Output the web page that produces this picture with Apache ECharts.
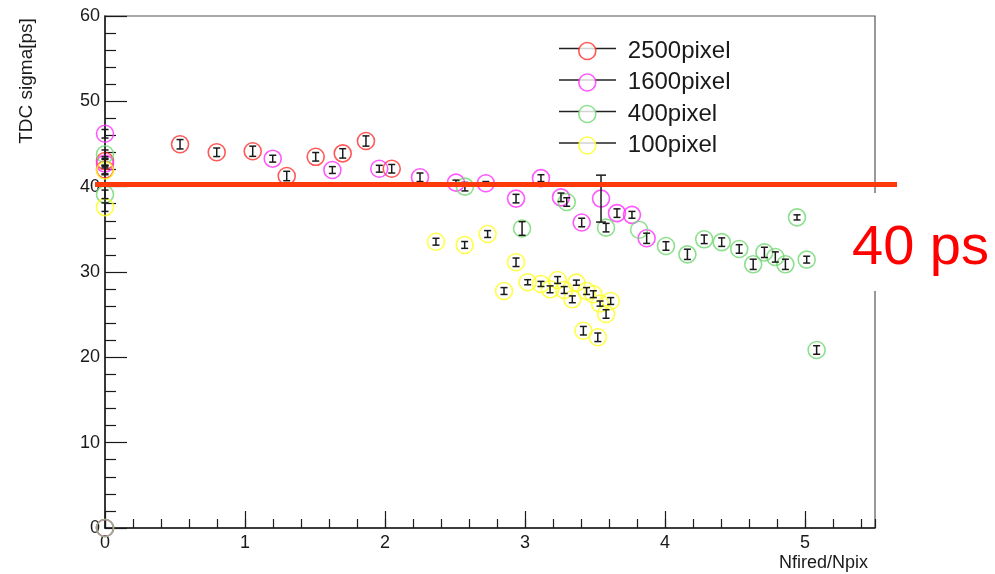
<!DOCTYPE html>
<html>
<head>
<meta charset="utf-8">
<script src="https://cdn.jsdelivr.net/npm/echarts@6.0.0/dist/echarts.min.js"></script>
<style>html,body{margin:0;padding:0;background:#fff}#main{width:995px;height:574px}</style>
</head>
<body>
<div id="main"></div>
<script>
// ---- data ----
const seriesNames = ['2500pixel', '1600pixel', '400pixel', '100pixel'];

const red2500X   = [0, 0, 0, 0.536, 0.798, 1.055, 1.298, 1.505, 1.698, 1.864, 2.048];
const red2500Y   = [0, 43.0, 42.0, 44.97, 44.03, 44.15, 41.25, 43.5, 43.9, 45.35, 42.1];
const red2500Err = [0, 0.5, 0.5, 0.55, 0.5, 0.6, 0.55, 0.5, 0.55, 0.6, 0.5];

const pink1600X   = [0, 0, 0, 1.198, 1.624, 1.959, 2.25, 2.507, 2.72, 2.936, 3.114, 3.257, 3.405, 3.543, 3.657, 3.764, 3.869];
const pink1600Y   = [0, 46.2, 42.7, 43.28, 41.95, 42.1, 41.1, 40.47, 40.4, 38.6, 41.0, 38.75, 35.8, 38.6, 36.9, 36.7, 33.95];
const pink1600Err = [0, 0.5, 0.5, 0.4, 0.4, 0.4, 0.5, 0.3, 0.2, 0.5, 0.4, 0.5, 0.5, 2.75, 0.5, 0.4, 0.6];

const green400X   = [0, 0, 0, 2.571, 2.979, 3.298, 3.579, 3.815, 4.007, 4.16, 4.28, 4.405, 4.53, 4.63, 4.71, 4.788, 4.86, 4.943, 5.012, 5.083];
const green400Y   = [0, 43.8, 39.1, 40.0, 35.1, 38.2, 35.2, 34.95, 33.05, 32.07, 33.83, 33.5, 32.7, 30.9, 32.3, 31.76, 30.9, 36.4, 31.45, 20.86];
const green400Err = [0, 0.5, 0.5, 0.5, 0.8, 0.5, 0.5, 0, 0.5, 0.6, 0.5, 0.5, 0.5, 0.6, 0.6, 0.6, 0.6, 0.3, 0.4, 0.5];

const yellow100X   = [0, 0, 2.364, 2.569, 2.733, 2.85, 2.936, 3.019, 3.114, 3.179, 3.233, 3.28, 3.338, 3.367, 3.417, 3.44, 3.488, 3.52, 3.536, 3.579, 3.612];
const yellow100Y   = [41.9, 37.6, 33.55, 33.17, 34.45, 27.77, 31.14, 28.8, 28.6, 27.97, 29.06, 27.89, 26.8, 28.75, 23.12, 27.77, 27.4, 22.35, 26.3, 25.08, 26.6];
const yellow100Err = [0.5, 0.5, 0.4, 0.4, 0.4, 0.4, 0.5, 0.3, 0.3, 0.4, 0.4, 0.4, 0.4, 0.3, 0.5, 0.4, 0.4, 0.5, 0.3, 0.5, 0.4];

const thresholdPs = 40.3;
const xTickValues = [0, 1, 2, 3, 4, 5];
const yTickValues = [0, 10, 20, 30, 40, 50, 60];

// ---- styling ----
const colors = ['#ff2e2e', '#ff2eff', '#72d872', '#ffff1e'];
const FONT = '"Liberation Sans", Arial, sans-serif';

function pairs(xs, ys) { return xs.map((x, i) => [x, ys[i]]); }
function triples(xs, ys, es) { return xs.map((x, i) => [x, ys[i], es[i]]); }

function errRenderItem(params, api) {
  const x = api.value(0), y = api.value(1), e = api.value(2);
  if (!e) return null;
  const t = api.coord([x, y + e]);
  const b = api.coord([x, y - e]);
  const hw = e > 2 ? 5 : 3.5;
  const st = { stroke: '#1a1a1a', lineWidth: 1.5 };
  return {
    type: 'group',
    children: [
      { type: 'line', shape: { x1: t[0], y1: t[1], x2: b[0], y2: b[1] }, style: st },
      { type: 'line', shape: { x1: t[0] - hw, y1: t[1], x2: t[0] + hw, y2: t[1] }, style: st },
      { type: 'line', shape: { x1: b[0] - hw, y1: b[1], x2: b[0] + hw, y2: b[1] }, style: st }
    ]
  };
}

const groups = [
  [red2500X, red2500Y, red2500Err],
  [pink1600X, pink1600Y, pink1600Err],
  [green400X, green400Y, green400Err],
  [yellow100X, yellow100Y, yellow100Err]
];

const series = [];
groups.forEach((g, i) => {
  series.push({
    name: seriesNames[i],
    type: 'scatter',
    xAxisIndex: 0, yAxisIndex: 0,
    data: pairs(g[0], g[1]),
    symbol: 'circle',
    symbolSize: 17,
    itemStyle: { color: 'rgba(0,0,0,0)', borderColor: colors[i], borderWidth: 1.6 },
    z: 3,
    silent: true
  });
});
groups.forEach((g, i) => {
  series.push({
    name: seriesNames[i] + ' err',
    type: 'custom',
    xAxisIndex: 0, yAxisIndex: 0,
    data: triples(g[0], g[1], g[2]),
    renderItem: errRenderItem,
    z: 4,
    silent: true
  });
});
// reference line (own wider grid so it extends beyond the frame as in the picture)
series.push({
  name: 'threshold',
  type: 'line',
  xAxisIndex: 2, yAxisIndex: 1,
  data: [],
  z: 10,
  markLine: {
    silent: true,
    symbol: 'none',
    label: { show: false },
    lineStyle: { color: '#ff3a0a', width: 5, type: 'solid' },
    data: [{ yAxis: thresholdPs }],
    z: 10
  }
});

const tickLabelStyle = { fontSize: 18, color: '#1a1a1a', fontFamily: FONT };

const option = {
  animation: false,
  backgroundColor: '#fff',
  grid: [
    { left: 105, right: 120, top: 16, bottom: 46, show: true, borderColor: '#555', borderWidth: 1.2, backgroundColor: 'rgba(0,0,0,0)' },
    { left: 95, right: 98, top: 16, bottom: 46, show: false }
  ],
  xAxis: [
    {
      gridIndex: 0, type: 'value', position: 'bottom', min: 0, max: 5.5, interval: 1,
      axisLine: { show: true, onZero: false, lineStyle: { color: '#1a1a1a', width: 1.5 } },
      axisTick: { show: true, inside: true, length: 17, lineStyle: { color: '#1a1a1a', width: 1.2 } },
      axisLabel: Object.assign({ margin: 6, showMaxLabel: false,
        formatter: v => (xTickValues.indexOf(v) >= 0 ? String(v) : '') }, tickLabelStyle),
      splitLine: { show: false }
    },
    {
      gridIndex: 0, type: 'value', position: 'bottom', offset: 0, min: 0, max: 5.5, interval: 0.2,
      axisLine: { show: false },
      axisTick: { show: true, inside: true, length: 9, lineStyle: { color: '#1a1a1a', width: 1.2 } },
      axisLabel: { show: false },
      splitLine: { show: false }
    },
    { gridIndex: 1, type: 'value', min: 0, max: 1, show: false }
  ],
  yAxis: [
    {
      gridIndex: 0, type: 'value', min: 0, max: 60, interval: 10,
      axisLine: { show: true, onZero: false, lineStyle: { color: '#1a1a1a', width: 1.5 } },
      axisTick: { show: true, inside: true, length: 22, lineStyle: { color: '#1a1a1a', width: 1.2 } },
      minorTick: { show: true, splitNumber: 5, length: 11, lineStyle: { color: '#1a1a1a', width: 1.2 } },
      axisLabel: Object.assign({ margin: 5,
        formatter: v => (yTickValues.indexOf(v) >= 0 ? String(v) : '') }, tickLabelStyle),
      splitLine: { show: false }
    },
    { gridIndex: 1, type: 'value', min: 0, max: 60, show: false }
  ],
  legend: {
    orient: 'vertical',
    left: 578, top: 39,
    padding: 0,
    itemGap: 7.5,
    itemWidth: 17, itemHeight: 17,
    icon: 'circle',
    selectedMode: false,
    z: 6,
    data: seriesNames,
    itemStyle: { color: '#fff', borderWidth: 1.6 },
    textStyle: { fontSize: 24, lineHeight: 24, color: '#1a1a1a', fontFamily: FONT, padding: [0, 0, 0, 27] }
  },
  graphic: [
    { type: 'line', z: 1, shape: { x1: 559, y1: 48.5, x2: 616, y2: 48.5 }, style: { stroke: '#222', lineWidth: 1.3 } },
    { type: 'line', z: 1, shape: { x1: 559, y1: 80, x2: 616, y2: 80 }, style: { stroke: '#222', lineWidth: 1.3 } },
    { type: 'line', z: 1, shape: { x1: 559, y1: 111.5, x2: 616, y2: 111.5 }, style: { stroke: '#222', lineWidth: 1.3 } },
    { type: 'line', z: 1, shape: { x1: 559, y1: 143, x2: 616, y2: 143 }, style: { stroke: '#222', lineWidth: 1.3 } },
    { type: 'rect', z: 50, shape: { x: 845, y: 193, width: 150, height: 98 }, style: { fill: '#fff' } },
    { type: 'text', z: 51, x: 852, y: 249, style: { text: '40 ps', font: '56px ' + FONT, fill: '#ff0000', textVerticalAlign: 'middle' } },
    { type: 'text', z: 51, x: 27, y: 81, rotation: Math.PI / 2, style: { text: 'TDC sigma[ps]', font: '19px ' + FONT, fill: '#1a1a1a', textAlign: 'center', textVerticalAlign: 'middle' } },
    { type: 'text', z: 51, x: 868, y: 563, style: { text: 'Nfired/Npix', font: '18px ' + FONT, fill: '#1a1a1a', textAlign: 'right', textVerticalAlign: 'middle' } }
  ],
  series: series
};

const chart = echarts.init(document.getElementById('main'), null, { renderer: 'canvas' });
chart.setOption(option);
</script>
</body>
</html>
